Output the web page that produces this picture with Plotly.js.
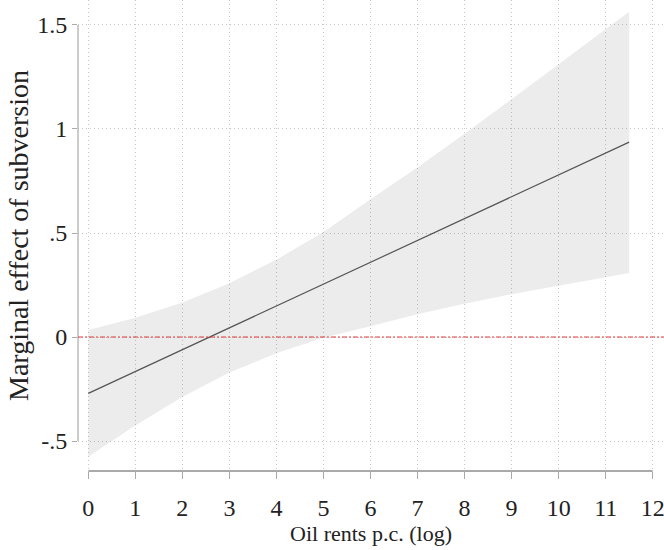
<!DOCTYPE html>
<html>
<head>
<meta charset="utf-8">
<script src="https://cdn.plot.ly/plotly-3.0.1.min.js"></script>
<style>html,body{margin:0;padding:0;background:#fff;}#chart{width:664px;height:550px;}</style>
</head>
<body>
<div id="chart"></div>
<script>
// Oil rents p.c. (log)
var oilRents = [0, 1, 2, 3, 4, 5, 6, 7, 8, 9, 10, 11, 11.5];
// Marginal effect of subversion (point estimate)
var effect = [-0.271, -0.166, -0.061, 0.044, 0.149, 0.254, 0.359, 0.464, 0.569, 0.674, 0.779, 0.884, 0.937];
// Confidence interval bounds
var upperCI = [0.034, 0.093, 0.166, 0.259, 0.372, 0.505, 0.662, 0.816, 0.977, 1.142, 1.311, 1.481, 1.564];
var lowerCI = [-0.576, -0.425, -0.288, -0.171, -0.078, -0.003, 0.052, 0.110, 0.160, 0.206, 0.247, 0.287, 0.308];
var xTicks = [0, 1, 2, 3, 4, 5, 6, 7, 8, 9, 10, 11, 12];
var xTickLabels = ['0','1','2','3','4','5','6','7','8','9','10','11','12'];
var yTicks = [-0.5, 0, 0.5, 1, 1.5];
var yTickLabels = ['-.5', '0', '.5', '1', '1.5'];

var font = 'Liberation Serif, DejaVu Serif, serif';

var traces = [
  {x: oilRents, y: upperCI, type: 'scatter', mode: 'lines',
   line: {width: 0, shape: 'linear', color: 'rgba(0,0,0,0)'}, hoverinfo: 'skip', showlegend: false},
  {x: oilRents, y: lowerCI, type: 'scatter', mode: 'lines', fill: 'tonexty',
   fillcolor: 'rgba(0,0,0,0.075)',
   line: {width: 0, shape: 'linear', color: 'rgba(0,0,0,0)'}, hoverinfo: 'skip', showlegend: false},
  {x: oilRents, y: effect, type: 'scatter', mode: 'lines',
   line: {width: 1.2, color: '#555555'}, showlegend: false}
];

var layout = {
  width: 664, height: 550,
  margin: {l: 78, r: 0, t: 0, b: 79},
  paper_bgcolor: '#ffffff', plot_bgcolor: '#ffffff',
  showlegend: false,
  font: {family: font, color: '#222'},
  xaxis: {
    range: [-0.219, 12.24],
    tickvals: xTicks, ticktext: xTickLabels,
    ticks: 'outside', ticklen: 7, tickwidth: 1, tickcolor: '#aaaaaa',
    tickfont: {family: font, size: 24, color: '#222'},
    ticklabelstandoff: 8,
    ticklabeloverflow: 'allow',
    showgrid: true, gridcolor: '#c8c8c8', griddash: '1px,3px', gridwidth: 1,
    zeroline: false, showline: false,
    title: {text: 'Oil rents p.c. (log)', font: {family: font, size: 22, color: '#222'}, standoff: 2}
  },
  yaxis: {
    range: [-0.644, 1.620],
    tickvals: yTicks, ticktext: yTickLabels,
    ticks: 'outside', ticklen: 5, tickwidth: 1, tickcolor: '#aaaaaa',
    tickfont: {family: font, size: 24, color: '#222'},
    ticklabelstandoff: 0,
    showgrid: true, gridcolor: '#c8c8c8', griddash: '1px,3px', gridwidth: 1,
    zeroline: false, showline: false,
    title: {text: 'Marginal effect of subversion', font: {family: font, size: 28, color: '#222'}, standoff: 0}
  },
  shapes: [
    {type: 'line', xref: 'paper', yref: 'y', x0: 0, x1: 0, y0: -0.5, y1: 1.5,
     line: {color: '#aaaaaa', width: 1.2}},
    {type: 'line', xref: 'x', yref: 'paper', x0: 0, x1: 12, y0: 0, y1: 0,
     line: {color: '#aaaaaa', width: 2}},
    {type: 'line', xref: 'paper', yref: 'y', x0: 0, x1: 1, y0: 0, y1: 0,
     line: {color: 'rgb(225,55,55)', width: 1, dash: '5px,2px,2px,2px'}}
  ]
};

Plotly.newPlot('chart', traces, layout, {staticPlot: true, displayModeBar: false});
</script>
</body>
</html>
